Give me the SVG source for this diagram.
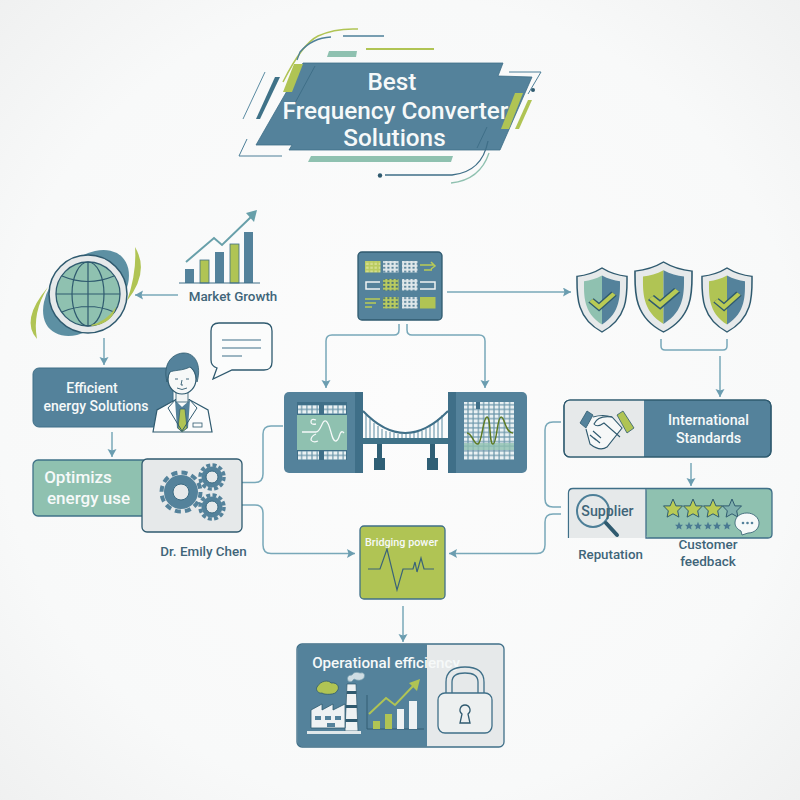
<svg xmlns="http://www.w3.org/2000/svg" width="800" height="800" viewBox="0 0 800 800">
<style>
text{font-family:Roboto,"Liberation Sans",sans-serif;font-weight:500;text-anchor:middle}
.w{fill:#f6f9f9}
.d{fill:#3f6579}
.conn{fill:none;stroke:#78a8b9;stroke-width:1.5}
.arr{marker-end:url(#ah)}
.ol{stroke:#2f5a6f;stroke-width:1.5}
.blue{fill:#54829b}
.teal{fill:#8fc1b0}
.green{fill:#b0c454}
.lite{fill:#e6e9ea}
.dk{fill:#2f5a6f}
.nof{fill:none}
</style>
<defs>
<radialGradient id="bg" cx="50%" cy="50%" r="72%"><stop offset="0" stop-color="#fcfcfc"/><stop offset="0.7" stop-color="#f8f9f9"/><stop offset="1" stop-color="#eff0f0"/></radialGradient>
<marker id="ah" markerUnits="userSpaceOnUse" markerWidth="10" markerHeight="10" refX="8" refY="4.5" orient="auto"><path d="M0 0L8 4.5L0 9L1.5 4.5Z" fill="#6b9db0"/></marker>
<pattern id="grid" width="5.2" height="4.6" patternUnits="userSpaceOnUse"><rect width="5.2" height="4.6" fill="#6c97ab"/><rect x="0.6" y="0.6" width="4" height="3.4" fill="#eaf1f3"/></pattern>
<pattern id="cellG" width="4.2" height="3.8" patternUnits="userSpaceOnUse"><rect width="4.2" height="3.8" fill="#b9cb5f"/><rect x="0.6" y="0.6" width="2.6" height="2.2" fill="#d5de91"/></pattern>
<pattern id="cellL" width="4.2" height="3.8" patternUnits="userSpaceOnUse"><rect width="4.2" height="3.8" fill="#dfe7ea"/><rect x="1" y="0.8" width="2" height="1.8" fill="#4f7c94"/></pattern>
<pattern id="cellD" width="4.2" height="3.8" patternUnits="userSpaceOnUse"><rect width="4.2" height="3.8" fill="#b9cb5f"/><rect x="1" y="0.8" width="2" height="1.8" fill="#38657b"/></pattern>
<path id="shO" d="M25 0C33 6 42 9 50 10C50 30 52 60 25 77C-2 60 0 30 0 10C8 9 17 6 25 0Z"/>
<path id="shI" d="M25 9C31 13 37 15 43 16C43 32 44 54 25 68C6 54 7 32 7 16C13 15 19 13 25 9Z"/>
<path id="shL" d="M25 9C19 13 13 15 7 16C7 32 6 54 25 68Z"/>
<path id="shR" d="M25 9C31 13 37 15 43 16C43 32 44 54 25 68Z"/>
<path id="chk" d="M14 39L22 47L37 31" fill="none" stroke="#2f5a6f" stroke-width="7.5" stroke-linejoin="miter"/>
<path id="chk2" d="M14 39L22 47L37 31" fill="none" stroke="#b9cb55" stroke-width="4.5"/>
<polygon id="star" points="0,-10 2.9,-3.1 9.5,-3.1 4.7,1.9 5.9,8.1 0,4.8 -5.9,8.1 -4.7,1.9 -9.5,-3.1 -2.9,-3.1"/>
<g id="gearS"><circle r="10.5" fill="#54829b"/><circle r="12" fill="none" stroke="#54829b" stroke-width="3.5" stroke-dasharray="4 2.3"/><circle r="6" fill="#e6e9ea" stroke="#3a6a82"/></g>
</defs>
<rect width="800" height="800" fill="url(#bg)"/>

<g id="connectors">
<path class="conn arr" d="M178 295H135"/>
<path class="conn arr" d="M104 338V365"/>
<path class="conn arr" d="M112 432V457"/>
<path class="conn" d="M242 482.5H255Q263 482.5 263 474V434Q263 426 271 426H283"/>
<path class="conn arr" d="M242 505H255Q263 505 263 513V545Q263 553.500 271 553.500H355"/>
<path class="conn arr" d="M447 292H571"/>
<path class="conn arr" d="M399 324V330Q399 335 394 335H332Q326 335 326 341V388"/>
<path class="conn arr" d="M407 324V330Q407 335 412 335H479Q485 335 485 341V388"/>
<path class="conn" d="M661 339V346Q661 350 665 350H723Q727 350 727 346V339"/>
<path class="conn arr" d="M720 356V397"/>
<path class="conn" d="M561 422H553Q545 422 545 430V499Q545 507 553 507H561"/>
<path class="conn arr" d="M561 514H553Q545 514 545 522V545Q545 553.500 537 553.500H449"/>
<path class="conn arr" d="M691 463V486"/>
<path class="conn arr" d="M403 606V642"/>
</g>

<g id="title">
<path d="M303 63H503L498 76L532 77L500 150H289L292 145H256Z" class="blue" stroke="#3f6f88" stroke-width="0.8"/>
<polygon points="294,64 303,64 292,92 283,92" class="green"/>
<polygon points="515,93 523,93 509,129 501,129" class="green"/>
<polygon points="528,100 532,100 519,129 515,129" class="green"/>
<polygon points="275,77 280,77 260,119 256,119" fill="#3f7288"/>
<polygon points="329,51 357,51 356,57 327,57" class="teal"/>
<polygon points="311,156 453,156 451,162 308,162" class="teal"/>
<path d="M358 29Q335 28 318 36Q302 44 283 82" fill="none" stroke="#b0c454" stroke-width="1.500"/>
<path d="M331 37Q312 38 300 52L297 60" fill="none" stroke="#4d7f98" stroke-width="1.300"/>
<path d="M343 36H384" stroke="#4d7f98" stroke-width="1.300"/>
<path d="M366 49H434" stroke="#b0c454" stroke-width="1.800"/>
<path d="M509 72H541L528 94" fill="none" stroke="#4d7f98" stroke-width="1"/>
<circle cx="533" cy="90" r="2" class="dk"/>
<path d="M265 72L243 119" stroke="#5a8ba2" stroke-width="1"/>
<path d="M315 66L295 103" stroke="#3f6f88" stroke-width="1"/>
<path d="M487 127L477 148" stroke="#3f6f88" stroke-width="1"/>
<path d="M247 139L239 156H282" fill="none" stroke="#4d7f98" stroke-width="1"/>
<path d="M488 141Q482 172 452 175H385" fill="none" stroke="#3f6f88" stroke-width="1.300"/>
<path d="M489 153Q480 180 451 183" fill="none" stroke="#8fc1b0" stroke-width="1.300"/>
<circle cx="380" cy="175.500" r="2.200" class="dk"/>
<text class="w" x="392" y="90" font-size="24.300">Best</text>
<text class="w" x="395.500" y="119" font-size="24.300">Frequency Converter</text>
<text class="w" x="394.500" y="146" font-size="24.300">Solutions</text>
</g>

<g id="market-growth">
<rect x="185" y="269" width="9" height="14" class="blue"/>
<rect x="200" y="260" width="9" height="23" class="green" stroke="#3f6f88" stroke-width="0.800"/>
<rect x="215" y="252" width="9" height="31" class="blue"/>
<rect x="230" y="244" width="9" height="39" class="green" stroke="#3f6f88" stroke-width="0.800"/>
<rect x="244" y="232" width="9" height="51" class="blue"/>
<path d="M179 283H260" stroke="#3f6f88" stroke-width="1.200"/>
<path d="M186 262L214 238L222 245L252 216" fill="none" stroke="#68a0aa" stroke-width="2"/>
<path d="M257 210L254 222L246 213Z" fill="#68a0aa"/>
<text class="d" x="233" y="301" font-size="13.400">Market Growth</text>
</g>

<g id="globe">
<ellipse cx="86" cy="293" rx="51" ry="33" transform="rotate(-45 86 293)" fill="#5d90a3"/>
<path d="M135 247Q150 272 127 301Q137 272 135 247Z" class="green"/>
<path d="M37 339Q20 320 48 287Q32 312 37 339Z" class="green"/>
<circle cx="88" cy="294" r="39" fill="#e6e9ea" stroke="#2f5a6f" stroke-width="1.500"/>
<circle cx="88" cy="294" r="32" class="teal" stroke="#2f5a6f" stroke-width="1.300"/>
<g fill="none" stroke="#2f5a6f" stroke-width="1.200">
<ellipse cx="88" cy="294" rx="16" ry="32"/>
<path d="M88 262V326M56 294H120M62 276Q88 287 114 276M62 312Q88 301 114 312"/>
</g>
<path d="M91 325Q106 322 116 307Q112 324 92 326Z" class="green"/>
</g>

<g id="efficient">
<rect x="33" y="368" width="140" height="59" rx="6" class="blue" stroke="#3f6f88"/>
<text class="w" x="92" y="393" font-size="14">Efficient</text>
<text class="w" x="96" y="411" font-size="14">energy Solutions</text>
</g>

<g id="person">
<path d="M153 432L157 410L175 400L190 400L208 410L212 432Z" fill="#fbfcfc" stroke="#2f5a6f" stroke-width="1.200"/>
<path d="M175 400L182 407L190 400L188 428L182 432L177 428Z" class="blue"/>
<path d="M180 409L185 409L187 428L182 432L178 428Z" class="green" stroke="#2f5a6f" stroke-width="0.700"/>
<path d="M176 399L168 408L182 431M189 399L197 408L182 431" fill="none" stroke="#2f5a6f" stroke-width="1"/>
<rect x="193" y="423" width="9" height="4" fill="none" stroke="#2f5a6f" stroke-width="0.800"/>
<rect x="176" y="390" width="12" height="12" fill="#f2f5f5" stroke="#2f5a6f" stroke-width="0.800"/>
<ellipse cx="182" cy="379" rx="14" ry="15" fill="#f6f8f8" stroke="#2f5a6f" stroke-width="1.200"/>
<path d="M167 382C162 362 174 353 184 353C195 353 202 365 197 382C196 374 194 369 190 367C182 371 174 370 170 372C168 375 168 378 167 382Z" class="blue" stroke="#2f5a6f" stroke-width="0.800"/>
<path d="M175 379h3M186 379h3M182 380l-1 5h2M177 388q5 3 10 0" fill="none" stroke="#2f5a6f" stroke-width="0.900"/>
<path d="M219 323H264Q272 323 272 331V362Q272 370 264 370H232L213 379L217 368Q211 366 211 360V331Q211 323 219 323Z" fill="#fbfcfc" stroke="#2f5a6f" stroke-width="1.300"/>
<path d="M222 340H261M222 348H261M222 356H242" stroke="#3f6f88" stroke-width="1.200"/>
</g>

<g id="optimizes">
<rect x="33" y="460" width="115" height="56" rx="5" class="teal" stroke="#3f7288" stroke-width="1.300"/>
<rect x="142" y="459" width="100" height="73" rx="5" class="lite" stroke="#2f5a6f" stroke-width="1.300"/>
<text class="w" x="78" y="483" font-size="17">Optimizs</text>
<text class="w" x="88.500" y="504" font-size="17">energy use</text>
<circle cx="181" cy="492" r="17" class="blue"/>
<circle cx="181" cy="492" r="19.500" fill="none" stroke="#54829b" stroke-width="4" stroke-dasharray="6 4.200"/>
<circle cx="181" cy="492" r="8" class="lite" stroke="#3a6a82"/>
<use href="#gearS" x="212" y="477"/>
<use href="#gearS" x="212" y="507"/>
<text class="d" x="203.500" y="556" font-size="13.400">Dr. Emily Chen</text>
</g>

<g id="matrix">
<rect x="358" y="252" width="84" height="68" rx="4" class="blue" stroke="#2f5a6f" stroke-width="1.300"/>
<rect x="365" y="261" width="15.500" height="11.500" fill="url(#cellG)"/>
<rect x="383" y="261" width="15.500" height="11.500" fill="url(#cellL)"/>
<rect x="402" y="261" width="15.500" height="11.500" fill="url(#cellL)"/>
<path d="M420 265H434M431 262L435 266L431 269M424 270H432" fill="none" stroke="#b9cb55" stroke-width="1.500"/>
<path d="M375 282H366V289H380M366 282H380" fill="none" stroke="#eef3f4" stroke-width="1.500"/>
<rect x="383" y="279" width="15.500" height="11.500" fill="url(#cellD)"/>
<rect x="402" y="279" width="15.500" height="11.500" fill="url(#cellL)"/>
<path d="M420 282H435V289H420" fill="none" stroke="#eef3f4" stroke-width="1.500"/>
<path d="M365 299H380M365 303H376M365 307H372" stroke="#b9cb55" stroke-width="1.300"/>
<rect x="383" y="297" width="15.500" height="11.500" fill="url(#cellD)"/>
<rect x="402" y="297" width="15.500" height="11.500" fill="url(#cellL)"/>
<rect x="420" y="297" width="15.500" height="11.500" class="green"/>
</g>

<g id="bridge">
<g stroke="#5a8ba2" stroke-width="1"><path d="M366 415V438M370 419V438M374 423V438M378 426V438M382 429V438M386 431V438M390 432V438M394 433V438M398 434V438M402 434V438M406 434V438M410 434V438M414 433V438M418 432V438M422 431V438M426 429V438M430 426V438M434 423V438M438 419V438M442 415V438"/></g>
<path d="M363 411Q405 455 448 411" fill="none" stroke="#3f6f88" stroke-width="2"/>
<rect x="363" y="438" width="85" height="6" fill="#3f7288"/>
<path d="M377 444h5v14h3v12h-11v-12h3zM430 444h5v14h3v12h-11v-12h3z" fill="#2f5f75"/>
<rect x="284" y="392" width="79" height="81" rx="5" class="blue"/>
<rect x="355" y="392" width="8" height="81" fill="#3f6f88"/>
<rect x="297" y="402" width="50" height="58" fill="#3f6f88"/>
<rect x="298" y="405" width="21" height="9" fill="url(#grid)"/>
<rect x="324" y="405" width="22" height="9" fill="url(#grid)"/>
<rect x="298" y="451" width="21" height="9" fill="url(#grid)"/>
<rect x="324" y="451" width="22" height="9" fill="url(#grid)"/>
<rect x="297" y="415" width="50" height="35" class="teal"/>
<path d="M302 432H316C321 432 322 419 326 421C331 424 331 442 336 441C340 440 339 430 343 432L344 433M316 420Q311 418 311 422Q311 425 316 424M316 434Q311 436 311 440Q313 443 318 441" fill="none" stroke="#f6f9f9" stroke-width="1.300"/>
<rect x="448" y="392" width="79" height="81" rx="5" class="blue"/>
<rect x="448" y="392" width="8" height="81" fill="#3f6f88"/>
<rect x="464" y="402" width="50" height="58" fill="url(#grid)"/>
<rect x="476" y="402" width="4" height="7" fill="#3f6f88"/>
<rect x="499" y="402" width="0" height="7" fill="#3f6f88"/>
<rect x="464" y="443" width="50" height="7" class="teal" opacity="0.800"/>
<path d="M467 433C472 433 474 445 478 444C482 443 483 417 487 417C491 417 489 444 493 444C497 444 497 417 501 417C505 417 505 433 513 433" fill="none" stroke="#5d7a22" stroke-width="1.500"/>
</g>

<g id="shields">
<g transform="translate(577 268) scale(1 .83)">
<use href="#shO" fill="#e6e9ea" stroke="#2f5a6f" stroke-width="1.500"/>
<use href="#shL" class="teal"/><use href="#shR" class="blue"/>
<use href="#chk"/><use href="#chk2"/>
</g>
<g transform="translate(635 262) scale(1.140 .91)">
<use href="#shO" fill="#e6e9ea" stroke="#2f5a6f" stroke-width="1.400"/>
<use href="#shL" class="green"/><use href="#shR" class="blue"/>
<use href="#chk"/><use href="#chk2"/>
</g>
<g transform="translate(702 268) scale(1 .83)">
<use href="#shO" fill="#e6e9ea" stroke="#2f5a6f" stroke-width="1.500"/>
<use href="#shL" class="green"/><use href="#shR" class="blue"/>
<use href="#chk"/><use href="#chk2"/>
</g>
</g>

<g id="international">
<rect x="564" y="400" width="207" height="57" rx="6" class="blue" stroke="#2f5a6f" stroke-width="1.200"/>
<path d="M644 400.600H570Q564.600 400.600 564.600 406V451Q564.600 456.400 570 456.400H644Z" class="lite"/>
<rect x="564" y="400" width="207" height="57" rx="6" fill="none" stroke="#2f5a6f" stroke-width="1.200"/>
<path d="M580 423L587 411L593 415L586 428Z" class="blue" stroke="#2f5a6f" stroke-width="0.800"/>
<path d="M617 415L623 411L634 428L627 433Z" class="green" stroke="#2f5a6f" stroke-width="0.800"/>
<path d="M593 417Q603 414 612 417L622 428L607 447Q600 452 590 444L586 429" fill="#f6f8f8" stroke="#2f5a6f" stroke-width="1.100"/>
<path d="M612 417Q598 415 594 424Q597 428 604 423L620 437M590 435L596 440M593 431L601 438M600 443L594 438" fill="none" stroke="#2f5a6f" stroke-width="1.100"/>
<text class="w" x="708.500" y="425" font-size="14.300">International</text>
<text class="w" x="708.500" y="443" font-size="14.300">Standards</text>
</g>

<g id="supplier">
<rect x="646" y="488" width="126" height="50" rx="4" class="teal"/>
<path d="M570 488H646V538H570Z" class="lite"/>
<path d="M568.500 538V493Q568.500 488.500 573 488.500H767Q772 488.500 772 493V534Q772 538 768 538H646V488.500" fill="none" stroke="#3f6f88" stroke-width="1.300"/>
<circle cx="593" cy="511" r="16" fill="none" stroke="#4d7f98" stroke-width="2"/>
<path d="M606 523L617 535" stroke="#2f5a6f" stroke-width="4" stroke-linecap="round"/>
<text class="d" x="607.500" y="516" font-size="14.200">Supplier</text>
<g fill="#b9cb55" stroke="#2f5a6f" stroke-width="1">
<use href="#star" x="673" y="509"/>
<use href="#star" x="693" y="509"/>
<use href="#star" x="713" y="509"/>
<use href="#star" x="732" y="509" fill="#7fb0ad"/>
</g>
<g fill="#4a7a92">
<use href="#star" transform="translate(679 526) scale(.42)"/>
<use href="#star" transform="translate(689 526) scale(.42)"/>
<use href="#star" transform="translate(698 526) scale(.42)"/>
<use href="#star" transform="translate(708 526) scale(.42)"/>
<use href="#star" transform="translate(717 526) scale(.42)"/>
<use href="#star" transform="translate(727 526) scale(.42)"/>
</g>
<path d="M747 513C754 513 759 518 759 523C759 529 754 533 748 533L742 535L741 531C737 529 735 526 735 523C735 517 740 513 747 513Z" fill="#f6f9f9" stroke="#2f5a6f" stroke-width="0.800"/>
<circle cx="743" cy="523" r="1.300" class="blue"/><circle cx="747.500" cy="523" r="1.300" class="blue"/><circle cx="752" cy="523" r="1.300" class="blue"/>
<text class="d" x="610.500" y="559" font-size="13.300">Reputation</text>
<text class="d" x="708" y="549" font-size="13.500">Customer</text>
<text class="d" x="708" y="566" font-size="13.500">feedback</text>
</g>

<g id="bridging">
<rect x="360" y="526" width="85" height="73" rx="4" class="green" stroke="#3f6f88" stroke-width="1.300"/>
<text class="w" x="401.500" y="546" font-size="10.800">Bridging power</text>
<path d="M368 569H380L387 549L397 590L403 569H413L415 562L417 572L421 558L424 569H434" fill="none" stroke="#3a6379" stroke-width="1.200"/>
</g>

<g id="operational">
<rect x="297" y="644" width="207" height="103" rx="5" class="lite"/>
<path d="M427 644.500H302Q297.500 644.500 297.500 649V742Q297.500 746.500 302 746.500H427Z" class="blue"/>
<rect x="297" y="644" width="207" height="103" rx="5" fill="none" stroke="#3f6f88" stroke-width="1.300"/>
<text class="w" x="386" y="668" font-size="15.200">Operational efficiency</text>
<path d="M317 687C321 680 329 680 331 683C338 682 340 688 337 691C336 695 324 695 322 693C319 694 315 690 317 687Z" class="green" stroke="#2f5a6f" stroke-width="0.800"/>
<path d="M348 681Q346 675 352 675Q354 671 360 673Q366 672 364 678Q360 682 354 679Q352 683 348 681Z" fill="#cfdde3" stroke="#7ba0b0" stroke-width="0.700"/>
<path d="M347 684H356L358 731H345Z" fill="#eef2f3" stroke="#2f5a6f" stroke-width="0.700"/>
<path d="M347 691H356.500V694H346.500ZM346 705H357V708H346ZM345.500 719H357.500V722H345.500Z" fill="#2f5a6f"/>
<path d="M311 728V710L322 704V710L333 704V710L345 704V728Z" fill="#eef2f3" stroke="#2f5a6f" stroke-width="0.800"/>
<path d="M315 716h6v4h-6zM325 716h6v4h-6zM335 716h6v4h-6zM327 727v-4h8v4z" class="blue"/>
<rect x="307" y="731" width="54" height="3" fill="#dfe7ea"/>
<path d="M367 695V729H424" fill="none" stroke="#2f5a6f" stroke-width="0.900"/>
<rect x="373" y="721" width="7" height="8" class="green"/>
<rect x="385" y="714" width="7" height="15" class="green"/>
<rect x="397" y="709" width="7" height="20" fill="#eef2f3"/>
<rect x="409" y="701" width="8" height="28" fill="#eef2f3"/>
<path d="M369 714L386 698L395 705L415 684" fill="none" stroke="#b0c454" stroke-width="2"/>
<path d="M420 679L417 691L409 683Z" class="green"/>
<path d="M446 693V682Q446 667 465 667Q484 667 484 682V693M452 693V682Q452 673 465 673Q478 673 478 682V693" fill="none" stroke="#3f6f88" stroke-width="1.300"/>
<rect x="438" y="693" width="54" height="40" rx="7" fill="#edf0f0" stroke="#3f6f88" stroke-width="1.300"/>
<path d="M465 705a5 5 0 0 1 3 9l2 9h-10l2-9a5 5 0 0 1 3-9Z" fill="none" stroke="#2f5a6f" stroke-width="1.300"/>
</g>
</svg>
